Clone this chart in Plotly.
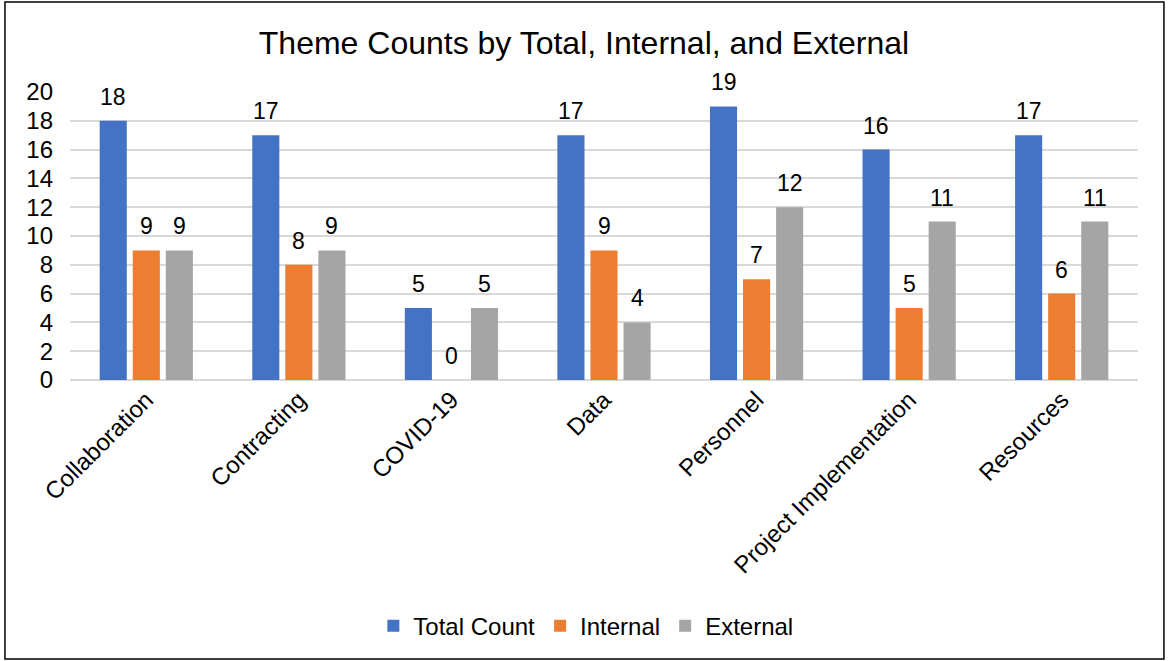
import plotly.graph_objects as go

themes = ["Collaboration", "Contracting", "COVID-19", "Data", "Personnel",
          "Project Implementation", "Resources"]
total_count = [18, 17, 5, 17, 19, 16, 17]
internal = [9, 8, 0, 9, 7, 5, 6]
external = [9, 9, 5, 4, 12, 11, 11]

series = [
    ("Total Count", total_count, "#4472C4"),
    ("Internal", internal, "#ED7D31"),
    ("External", external, "#A5A5A5"),
]

FONT = "Liberation Sans, Arial, sans-serif"
W, H = 1168, 661
ML, MR, MT, MB = 70, 30, 92, 281
BARGAP = 0.35
BARGROUPGAP = 0.18

fig = go.Figure()
for name, vals, color in series:
    fig.add_trace(go.Bar(
        x=themes, y=vals, name=name,
        marker=dict(color=color, line=dict(width=0)),
    ))

# Value labels above each bar, offset horizontally to the bar's slot in the group
cat_px = (W - ML - MR) / len(themes)
slot_px = cat_px * (1 - BARGAP) / len(series)
for i, (name, vals, color) in enumerate(series):
    for theme, v in zip(themes, vals):
        fig.add_annotation(
            x=theme, y=v, text=str(v), showarrow=False,
            xshift=(i - (len(series) - 1) / 2) * slot_px, yshift=24,
            yanchor="middle", xanchor="center",
            font=dict(size=23, color="#000000", family=FONT),
        )

# Outer chart border
fig.add_shape(type="rect", xref="paper", yref="paper",
              x0=-0.0609, x1=1.0243, y0=-0.9688, y1=1.3125,
              line=dict(color="#000000", width=1.5), layer="below")

fig.update_layout(
    width=W, height=H,
    margin=dict(l=ML, r=MR, t=MT, b=MB),
    paper_bgcolor="white", plot_bgcolor="white",
    font=dict(family=FONT, color="#000000"),
    title=dict(text="Theme Counts by Total, Internal, and External",
               x=0.5, xanchor="center", y=0.936, yanchor="middle",
               font=dict(size=32, color="#000000", family=FONT)),
    barmode="group", bargap=BARGAP, bargroupgap=BARGROUPGAP,
    showlegend=True,
    legend=dict(orientation="h", x=0.483, xanchor="center", y=-0.855, yanchor="middle",
                font=dict(size=24, color="#000000", family=FONT),
                traceorder="normal"),
)
fig.update_yaxes(range=[0, 20], dtick=2, showgrid=True, gridcolor="#D9D9D9",
                 gridwidth=1.5, zeroline=True, zerolinecolor="#D9D9D9",
                 zerolinewidth=1.5, showline=False, ticks="",
                 ticklabelstandoff=16,
                 tickfont=dict(size=24, color="#000000", family=FONT))
fig.update_xaxes(tickangle=-45, showline=False, ticks="",
                 tickfont=dict(size=24, color="#000000", family=FONT))

fig.write_html("out.html")
